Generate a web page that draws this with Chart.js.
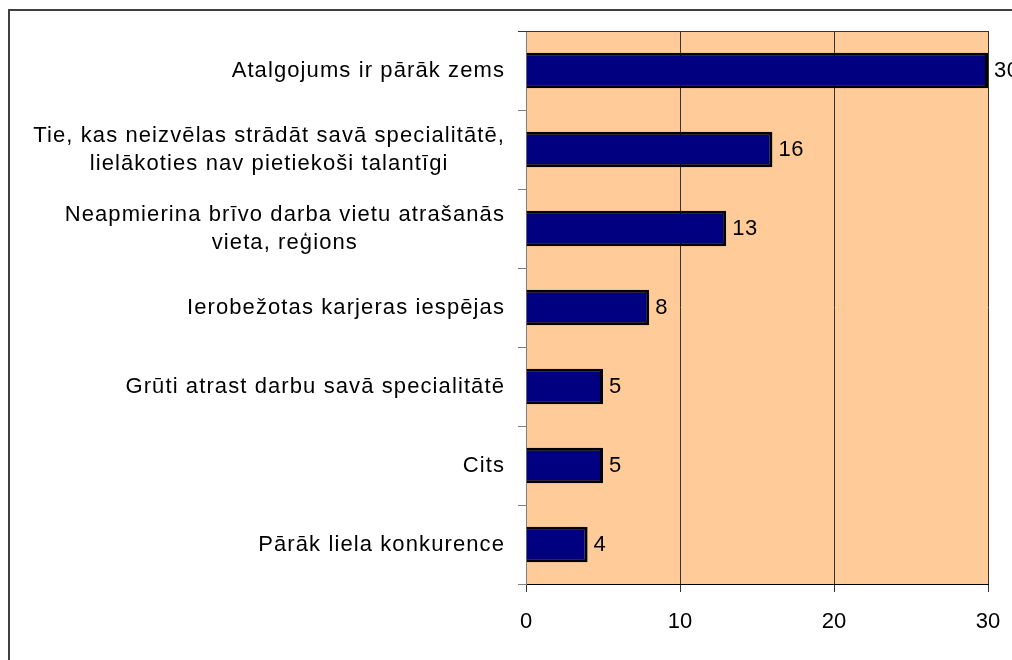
<!DOCTYPE html>
<html>
<head>
<meta charset="utf-8">
<script src="https://cdn.jsdelivr.net/npm/chart.js@4/dist/chart.umd.min.js"></script>
<style>
  html, body { margin: 0; padding: 0; background: #fff; }
  canvas { display: block; }
</style>
</head>
<body>
<canvas id="c" width="1012" height="660"></canvas>
<script>
// dati
const labels = [
  'Atalgojums ir pārāk zems',
  ['Tie, kas neizvēlas strādāt savā specialitātē,', 'lielākoties nav pietiekoši talantīgi'],
  ['Neapmierina brīvo darba vietu atrašanās', 'vieta, reģions'],
  'Ierobežotas karjeras iespējas',
  'Grūti atrast darbu savā specialitātē',
  'Cits',
  'Pārāk liela konkurence'
];
const values = [30, 16, 13, 8, 5, 5, 4];
const xTicks = [0, 10, 20, 30];

const FAMILY = '"Liberation Sans", Arial, sans-serif';
const FONT = '22px ' + FAMILY;

// y ass etiķetes: bloks pielīdzināts pa labi, rindas centrētas
const yLabelsPlugin = {
  id: 'yLabels',
  afterDraw(chart) {
    const ctx = chart.ctx;
    const ys = chart.scales.y;
    const right = chart.chartArea.left - 21;
    ctx.save();
    ctx.font = FONT;
    ctx.letterSpacing = '1.1px';
    ctx.fillStyle = '#000';
    ctx.textBaseline = 'middle';
    chart.data.labels.forEach((lab, i) => {
      const lines = Array.isArray(lab) ? lab : [lab];
      const y = ys.getPixelForValue(i);
      const w = Math.max(...lines.map(l => ctx.measureText(l).width));
      const lh = 28;
      lines.forEach((l, j) => {
        const yy = y + (j - (lines.length - 1) / 2) * lh;
        if (lines.length > 1) {
          ctx.textAlign = 'center';
          ctx.fillText(l, right - w / 2, yy);
        } else {
          ctx.textAlign = 'right';
          ctx.fillText(l, right, yy);
        }
      });
    });
    ctx.restore();
  }
};

// vērtības pie stabiņiem
const valueLabels = {
  id: 'valueLabels',
  afterDatasetsDraw(chart) {
    const ctx = chart.ctx;
    const meta = chart.getDatasetMeta(0);
    ctx.save();
    ctx.font = FONT;
    ctx.letterSpacing = '0.5px';
    ctx.fillStyle = '#000';
    ctx.textAlign = 'left';
    ctx.textBaseline = 'middle';
    meta.data.forEach((bar, i) => {
      ctx.fillText(String(chart.data.datasets[0].data[i]), bar.x + 6, bar.y);
    });
    ctx.restore();
  }
};

// fons, augšējā mala, rāmis
const frame = {
  id: 'frame',
  beforeDraw(chart) {
    const { ctx, chartArea: a } = chart;
    ctx.save();
    ctx.fillStyle = '#FFCC99';
    ctx.fillRect(a.left, a.top, a.right - a.left, a.bottom - a.top);
    ctx.restore();
  },
  afterDraw(chart) {
    const { ctx, chartArea: a } = chart;
    ctx.save();
    ctx.strokeStyle = '#333';
    ctx.lineWidth = 1;
    ctx.beginPath();
    ctx.moveTo(a.left - 8, a.top + 0.5);
    ctx.lineTo(a.right, a.top + 0.5);
    ctx.stroke();
    ctx.strokeStyle = '#404040';
    ctx.lineWidth = 2;
    ctx.beginPath();
    ctx.moveTo(9, 670);
    ctx.lineTo(9, 10);
    ctx.lineTo(1020, 10);
    ctx.stroke();
    ctx.restore();
  }
};

new Chart(document.getElementById('c'), {
  type: 'bar',
  data: {
    labels: labels,
    datasets: [{
      data: values,
      backgroundColor: '#000080',
      borderColor: '#000',
      borderWidth: 3,
      borderSkipped: 'left',
      barPercentage: 0.45,
      categoryPercentage: 1
    }]
  },
  options: {
    indexAxis: 'y',
    responsive: false,
    devicePixelRatio: 1,
    animation: false,
    layout: { padding: { top: 31, right: 24, bottom: 0, left: 0 } },
    plugins: { legend: { display: false }, tooltip: { enabled: false } },
    scales: {
      x: {
        min: 0,
        max: 30,
        afterBuildTicks(scale) { scale.ticks = xTicks.map(v => ({ value: v })); },
        afterFit(scale) {
          scale.height = 76;
          scale.paddingLeft = 0;
          scale.paddingRight = 0;
        },
        grid: { color: '#333', tickLength: 8, drawOnChartArea: true },
        border: { color: '#000' },
        ticks: { color: '#000', font: { family: FAMILY, size: 22 }, padding: 17 }
      },
      y: {
        afterFit(scale) { scale.width = 526; },
        grid: { color: '#808080', drawOnChartArea: false, tickLength: 8, offset: true },
        border: { color: '#808080' },
        ticks: { display: false }
      }
    }
  },
  plugins: [frame, yLabelsPlugin, valueLabels]
});
</script>
</body>
</html>
